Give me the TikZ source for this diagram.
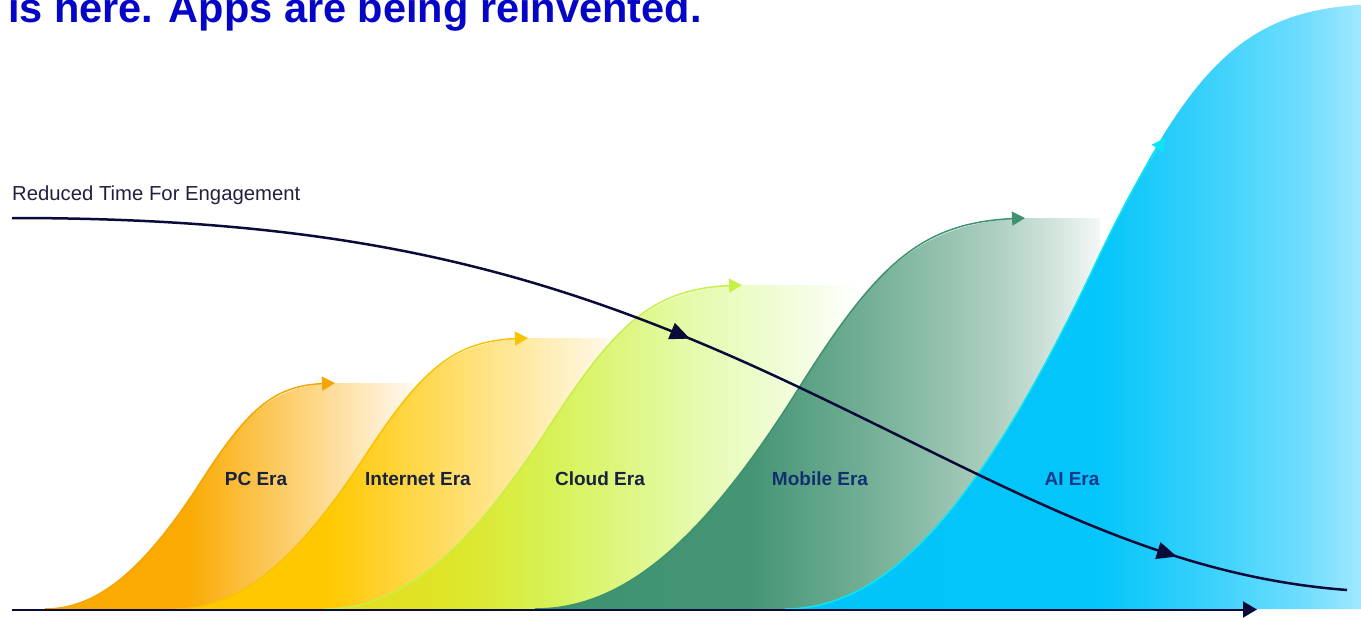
\documentclass[tikz,border=0pt]{standalone}
\usepackage{fontspec}
\setmainfont{Liberation Sans}
\usetikzlibrary{arrows.meta,decorations.markings}

\definecolor{titleblue}{HTML}{0505C8}
\definecolor{navy}{HTML}{0B0B3A}
\definecolor{labelnavy}{HTML}{18213F}
\definecolor{mobnavy}{HTML}{123070}
\definecolor{ainavy}{HTML}{16388A}
\definecolor{txtdark}{HTML}{20213F}

\definecolor{pcA}{HTML}{FAAA00}
\definecolor{pcZ}{HTML}{FFF9F0}
\definecolor{pcS}{HTML}{F5A500}
\definecolor{inA}{HTML}{FFC800}
\definecolor{inZ}{HTML}{FFF8E8}
\definecolor{inS}{HTML}{F8C300}
\definecolor{clA}{HTML}{E6DC1C}
\definecolor{clB}{HTML}{DDE62A}
\definecolor{clC}{HTML}{D6F255}
\definecolor{clD}{HTML}{E6FBB0}
\definecolor{clE}{HTML}{F4FDE4}
\definecolor{clS}{HTML}{C6F048}
\definecolor{moA}{HTML}{3E9270}
\definecolor{moB}{HTML}{449574}
\definecolor{moC}{HTML}{7FB69E}
\definecolor{moD}{HTML}{AFD0C2}
\definecolor{moE}{HTML}{D6E7E0}
\definecolor{moZ}{HTML}{F4F8F6}
\definecolor{moS}{HTML}{3E9270}
\definecolor{aiA}{HTML}{00C3F7}
\definecolor{aiB}{HTML}{05C6FA}
\definecolor{aiC}{HTML}{36D0FB}
\definecolor{aiD}{HTML}{6FDDFD}
\definecolor{aiZ}{HTML}{A0E8FF}
\definecolor{aiS}{HTML}{0DE6F2}

% stops: position p of bbox -> 25+50p bp
\pgfdeclarehorizontalshading{pcsh}{100bp}{color(0bp)=(pcA); color(25bp)=(pcA); color(44bp)=(pcA); color(75bp)=(pcZ); color(100bp)=(pcZ)}
\pgfdeclarehorizontalshading{insh}{100bp}{color(0bp)=(inA); color(25bp)=(inA); color(42.5bp)=(inA); color(75bp)=(inZ); color(100bp)=(inZ)}
\pgfdeclarehorizontalshading{clsh}{100bp}{color(0bp)=(clA); color(25bp)=(clA); color(37.5bp)=(clB); color(46bp)=(clC); color(60bp)=(clD); color(70bp)=(clE); color(75bp)=(white); color(100bp)=(white)}
\pgfdeclarehorizontalshading{mosh}{100bp}{color(0bp)=(moA); color(25bp)=(moA); color(44bp)=(moB); color(57bp)=(moC); color(66bp)=(moD); color(71.5bp)=(moE); color(75bp)=(moZ); color(100bp)=(moZ)}
\pgfdeclarehorizontalshading{aish}{100bp}{color(0bp)=(aiA); color(25bp)=(aiA); color(52.5bp)=(aiB); color(61bp)=(aiC); color(70bp)=(aiD); color(75bp)=(aiZ); color(100bp)=(aiZ)}

% S-curve from (x0,609) up to (x1,ytop)
\newcommand{\erapath}[3]{(#1,609) .. controls ({#1+0.18*(#2-#1)},609) and ({#1+0.34*(#2-#1)},{609-0.17*(609-#3)}) .. ({#1+0.536*(#2-#1)},{609-0.56*(609-#3)}) .. controls ({#1+0.696*(#2-#1)},{609-0.88*(609-#3)}) and ({#1+0.786*(#2-#1)},{609-0.987*(609-#3)}) .. (#2,#3)}

\tikzset{
  eraline/.style={line width=1.5pt, fill=none, -{Triangle[length=13pt,width=14pt]}},
  eralabel/.style={anchor=base, inner sep=0pt, font=\bfseries\fontsize{19}{19}\selectfont},
  axisline/.style={draw=navy, line width=2pt, -{Triangle[length=14pt,width=16pt]}},
  trendline/.style={draw=navy, line width=2.5pt,
    postaction={decorate, decoration={markings,
      mark=at position 0.495 with {\arrow{Triangle[length=20pt,width=17pt]}},
      mark=at position 0.876 with {\arrow{Triangle[length=20pt,width=17pt]}}}}},
}

\begin{document}
\begin{tikzpicture}[x=1pt,y=-1pt]
\useasboundingbox (0,0) rectangle (1361,618);

% title (cut at top, as in the reference)
\node[anchor=base west, inner sep=0pt, text=titleblue, font=\bfseries\fontsize{41.5}{41.5}\selectfont] (title) at (8,23) {is here. Apps are being reinvented.};

% PC era
\shade[shading=pcsh] \erapath{45}{335}{383} -- (413,383) -- (413,609) -- cycle;
\draw[eraline, draw=pcS] \erapath{45}{335}{383};

% Internet era
\shade[shading=insh] \erapath{175}{528}{338} -- (607,338) -- (607,609) -- cycle;
\draw[eraline, draw=inS] \erapath{175}{528}{338};

% Cloud era
\shade[shading=clsh] \erapath{325}{742}{285} -- (860,285) -- (860,609) -- cycle;
\draw[eraline, draw=clS] \erapath{325}{742}{285};

% Mobile era
\shade[shading=mosh] \erapath{535}{1025}{218} -- (1100,218) -- (1100,609) -- cycle;
\draw[eraline, draw=moS] \erapath{535}{1025}{218};

% AI era
\shade[shading=aish] \erapath{785}{1358}{5} -- (1361,5) -- (1361,609) -- cycle;
\draw[eraline, draw=aiS] (785,609) .. controls (888,609) and (980,506) .. (1092,271) .. controls (1119,213) and (1143,170) .. (1165,138);

% time axis
\coordinate (ax0) at (12,609.5);
\coordinate (ax1) at (1257,609.5);
\draw[axisline] (ax0) -- (ax1);

% era labels
\node[eralabel, text=labelnavy] (pc) at (256,485) {PC Era};
\node[eralabel, text=labelnavy] (inet) at (418,485) {Internet Era};
\node[eralabel, text=labelnavy] (cloud) at (600,485) {Cloud Era};
\node[eralabel, text=mobnavy] (mobile) at (820,485) {Mobile Era};
\node[eralabel, text=ainavy] (ai) at (1072,485) {AI Era};

% reduced time curve
\node[anchor=base west, inner sep=0pt, text=txtdark, font=\fontsize{20.3}{20.3}\selectfont] (rtlabel) at (12,200) {Reduced Time For Engagement};
\coordinate (rt0) at (12,218);
\coordinate (rtm) at (790,383);
\coordinate (rt1) at (1347,590);
\draw[trendline] (rt0) .. controls (350,218) and (550,270) .. (rtm) .. controls (1000,482) and (1150,575) .. (rt1);
\end{tikzpicture}
\end{document}
